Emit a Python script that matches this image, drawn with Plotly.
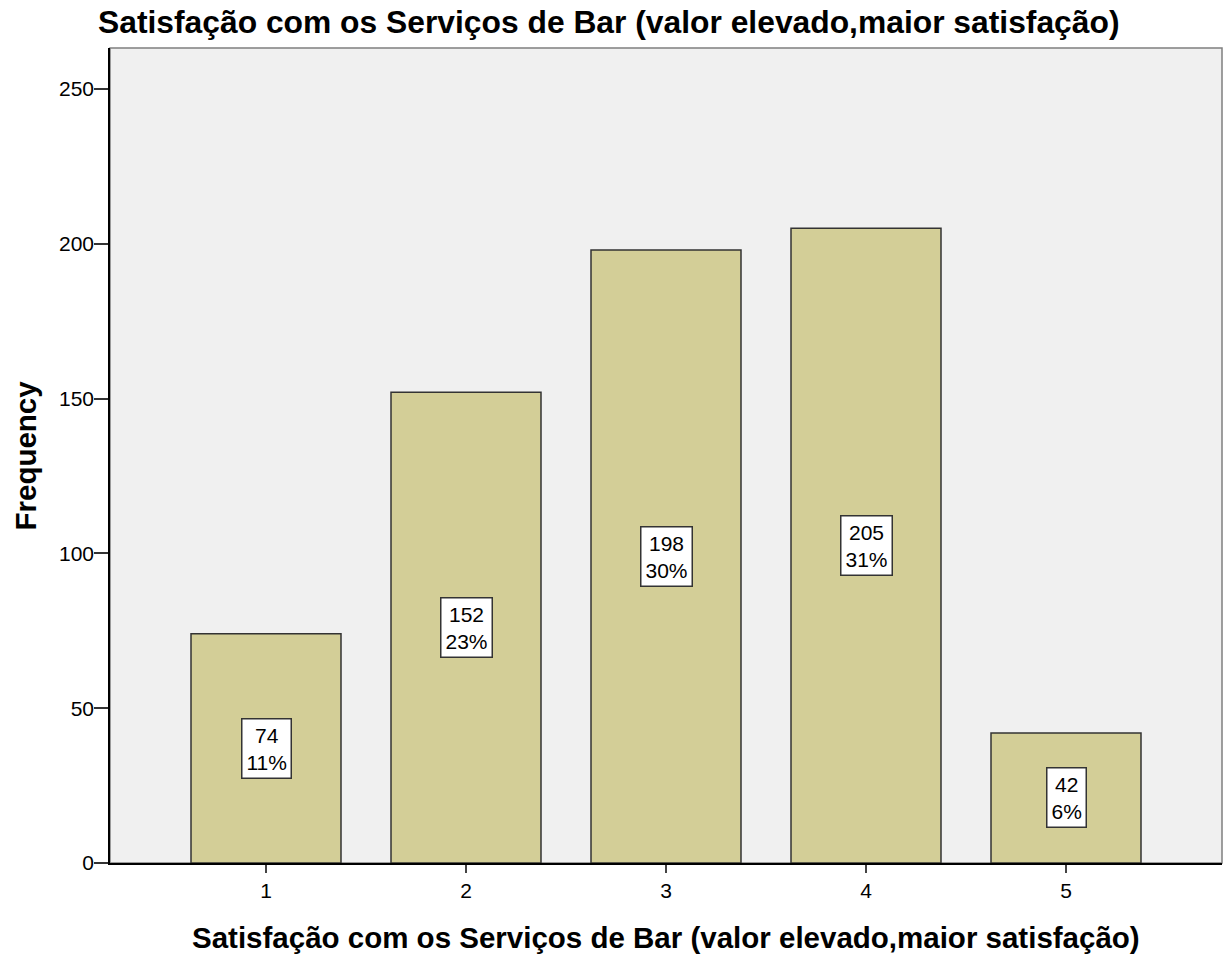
import plotly.graph_objects as go

categories = [1, 2, 3, 4, 5]
frequencies = [74, 152, 198, 205, 42]
percent_labels = ["11%", "23%", "30%", "31%", "6%"]
y_ticks = [0, 50, 100, 150, 200, 250]

title_text = "Satisfação com os Serviços de Bar (valor elevado,maior satisfação)"
FONT = "Liberation Sans, Arial, sans-serif"

W, H = 1230, 961
L, R, T, B = 110, 8, 48, 98
plot_w = W - L - R

fig = go.Figure()
fig.add_trace(go.Bar(
    x=categories, y=frequencies, width=0.75,
    marker=dict(color="#D3CE97", line=dict(color="#333333", width=1.5)),
    hoverinfo="x+y",
))

for c, v, p in zip(categories, frequencies, percent_labels):
    fig.add_annotation(
        x=c, y=v / 2, xref="x", yref="y", text=f"{v}<br>{p}",
        showarrow=False, bgcolor="white", bordercolor="#333333",
        borderwidth=1.5, borderpad=4,
        font=dict(family=FONT, size=21, color="black"),
    )

# Main title (centre at page x=608)
fig.add_annotation(x=(608 - L) / plot_w, y=1, xref="paper", yref="paper",
                   text="<b>" + title_text + "</b>", showarrow=False,
                   font=dict(family=FONT, size=31.8, color="black"),
                   xanchor="center", yanchor="middle", yshift=26)
# X axis title
fig.add_annotation(x=0.5, y=0, xref="paper", yref="paper", text="<b>" + title_text + "</b>",
                   showarrow=False, font=dict(family=FONT, size=29.5, color="black"),
                   xanchor="center", yanchor="middle", yshift=-74)
# Y axis title
fig.add_annotation(x=0, y=0.5, xref="paper", yref="paper", text="<b>Frequency</b>",
                   showarrow=False, font=dict(family=FONT, size=29.5, color="black"),
                   textangle=-90, xanchor="center", yanchor="middle", xshift=-85)

fig.add_shape(type="rect", xref="paper", yref="paper", x0=0, y0=0, x1=1, y1=1,
              line=dict(color="#7f7f7f", width=1.5), layer="below")

fig.update_layout(
    width=W, height=H,
    margin=dict(l=L, r=R, t=T, b=B),
    paper_bgcolor="white", plot_bgcolor="#F0F0F0",
    showlegend=False, bargap=0.25,
    font=dict(family=FONT, color="black"),
    xaxis=dict(range=[0.22, 5.78], tickvals=categories, ticktext=[str(c) for c in categories],
               ticks="outside", ticklen=8, tickwidth=2, tickcolor="#444444",
               showline=True, linecolor="black", linewidth=1.5, showgrid=False, zeroline=False,
               tickfont=dict(family=FONT, size=21, color="black"), fixedrange=True),
    yaxis=dict(range=[0, 263.2], tickvals=y_ticks,
               ticks="outside", ticklen=14, tickwidth=2, tickcolor="#333333",
               ticklabelstandoff=-4,
               showline=True, linecolor="black", linewidth=1.5, showgrid=False, zeroline=False,
               tickfont=dict(family=FONT, size=21, color="black"), fixedrange=True),
)

fig.write_html("out.html", config={"displayModeBar": False},
               post_script="document.body.style.margin='0px';")
